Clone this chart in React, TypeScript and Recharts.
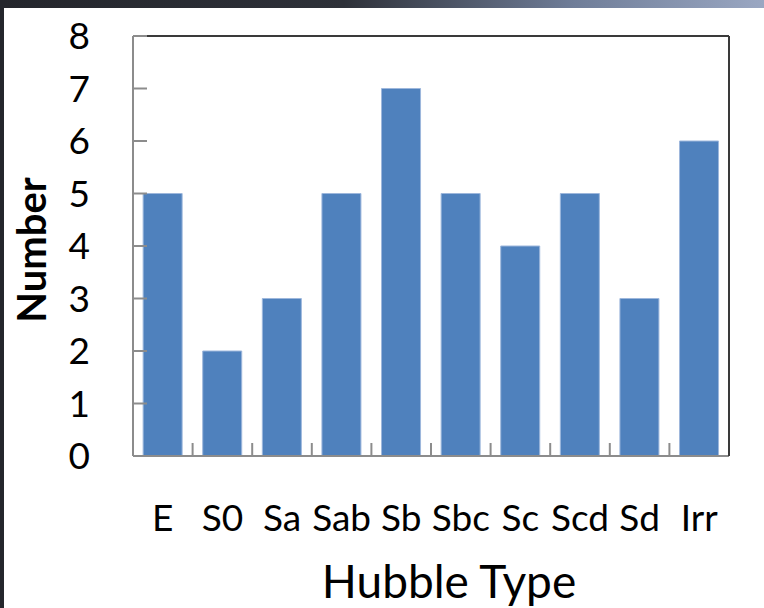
import React from 'react';
import { BarChart, Bar, XAxis, YAxis, Label } from 'recharts';

const hubbleTypes = ['E', 'S0', 'Sa', 'Sab', 'Sb', 'Sbc', 'Sc', 'Scd', 'Sd', 'Irr'];
const galaxyCounts = [5, 2, 3, 5, 7, 5, 4, 5, 3, 6];
const yTicks = [0, 1, 2, 3, 4, 5, 6, 7, 8];
// category boundaries, used for the tick marks between bars
const boundaryTicks = [1, 2, 3, 4, 5, 6, 7, 8, 9];

const data = hubbleTypes.map((type, i) => ({ type, count: galaxyCounts[i], slot: i + 0.5 }));

const FONT = 'Lato, "Open Sans", sans-serif';

const App: React.FC = () => {
    return (
        <div
            style={{
                position: 'absolute',
                left: 0,
                top: 0,
                width: 764,
                height: 608,
                background: 'linear-gradient(90deg, #24262c 0%, #2e3139 45%, #6f7d98 75%, #9aa7c2 100%)',
                overflow: 'hidden',
            }}
        >
            <div style={{ position: 'absolute', left: 4, top: 8, width: 760, height: 600, background: '#ffffff' }}>
                <BarChart
                    width={760}
                    height={600}
                    data={data}
                    barCategoryGap="17%"
                    margin={{ top: 27, right: 34, left: 128, bottom: 0 }}
                >
                    <XAxis
                        xAxisId="bounds"
                        type="number"
                        dataKey="slot"
                        domain={[0, 10]}
                        ticks={boundaryTicks}
                        tickFormatter={() => ''}
                        tickSize={-13}
                        height={1}
                        axisLine={{ stroke: '#8c8c8c', strokeWidth: 2 }}
                        tickLine={{ stroke: '#8c8c8c', strokeWidth: 2 }}
                        allowDataOverflow
                    />
                    <XAxis
                        xAxisId="cat"
                        dataKey="type"
                        height={151}
                        axisLine={false}
                        tickLine={false}
                        tickSize={0}
                        tickMargin={48}
                        interval={0}
                        tick={{ fill: '#000', fontSize: 37, fontFamily: FONT }}
                    >
                        <Label
                            content={({ viewBox }: any) => (
                                <text
                                    x={viewBox.x + viewBox.width / 2 + 18}
                                    y={viewBox.y + 141}
                                    textAnchor="middle"
                                    fill="#000"
                                    fontSize={46}
                                    fontFamily={FONT}
                                >
                                    Hubble Type
                                </text>
                            )}
                        />
                    </XAxis>
                    <XAxis
                        xAxisId="frameTop"
                        orientation="top"
                        type="number"
                        domain={[0, 10]}
                        height={1}
                        tick={false}
                        tickLine={false}
                        axisLine={{ stroke: '#3a3a3a', strokeWidth: 2 }}
                    />
                    <YAxis
                        yAxisId="left"
                        domain={[0, 8]}
                        ticks={yTicks}
                        width={1}
                        tickSize={-14}
                        tickMargin={57}
                        axisLine={{ stroke: '#8c8c8c', strokeWidth: 2 }}
                        tickLine={{ stroke: '#8c8c8c', strokeWidth: 2 }}
                        tick={{ fill: '#000', fontSize: 37, fontFamily: FONT }}
                    >
                        <Label
                            content={({ viewBox }: any) => {
                                const cx = viewBox.x + viewBox.width - 102;
                                const cy = viewBox.y + viewBox.height / 2 + 4;
                                return (
                                    <text
                                        x={cx}
                                        y={cy}
                                        transform={`rotate(-90, ${cx}, ${cy})`}
                                        textAnchor="middle"
                                        dominantBaseline="central"
                                        fill="#000"
                                        fontSize={40}
                                        fontWeight="bold"
                                        fontFamily={FONT}
                                    >
                                        Number
                                    </text>
                                );
                            }}
                        />
                    </YAxis>
                    <YAxis
                        yAxisId="frameRight"
                        orientation="right"
                        domain={[0, 8]}
                        width={1}
                        tick={false}
                        tickLine={false}
                        axisLine={{ stroke: '#3a3a3a', strokeWidth: 2 }}
                    />
                    <Bar
                        xAxisId="cat"
                        yAxisId="left"
                        dataKey="count"
                        fill="#4f81bd"
                        stroke="#9db7dc"
                        strokeWidth={1}
                        isAnimationActive={false}
                    />
                </BarChart>
            </div>
        </div>
    );
};

export default App;
